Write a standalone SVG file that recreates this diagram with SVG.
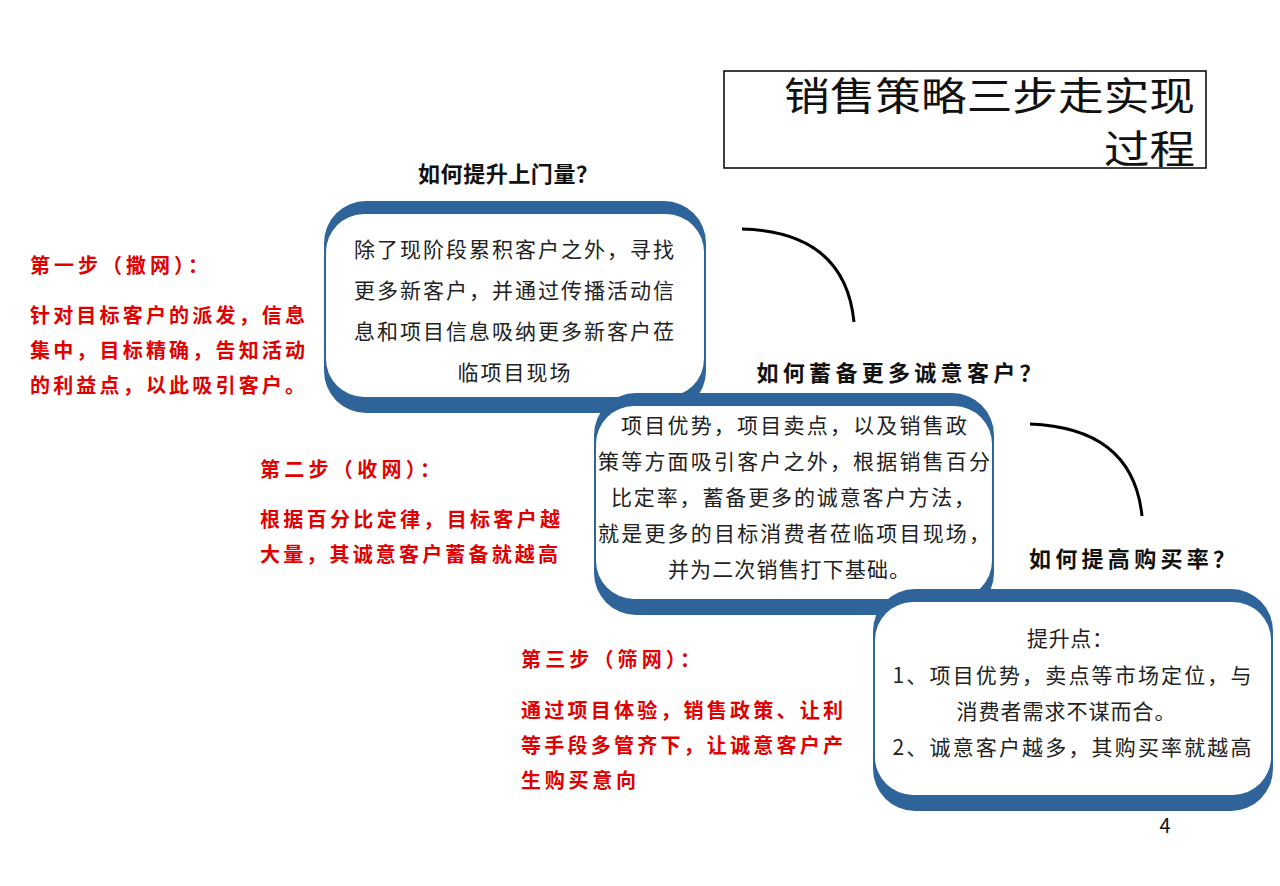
<svg xmlns="http://www.w3.org/2000/svg" width="1280" height="886" viewBox="0 0 1280 886">
<style>
text{font-family:"Noto Sans CJK SC","Noto Sans",sans-serif}
.b{fill:#2e6499}.w{fill:#fff}
.t{font-size:21px;fill:#222;text-anchor:middle}
.h{font-size:22px;font-weight:bold;fill:#111}
.r{font-size:20px;font-weight:bold;fill:#e00000}
.arc{fill:none;stroke:#000;stroke-width:3}
</style>
<rect width="1280" height="886" fill="#fff"/>
<g id="title">
<rect x="724" y="71" width="482" height="97" fill="#fff" stroke="#000" stroke-width="1.5"/>
<text x="784" y="110" font-size="39" fill="#111" textLength="411" lengthAdjust="spacingAndGlyphs">销售策略三步走实现</text>
<text x="1104" y="163" font-size="39" fill="#111" textLength="91" lengthAdjust="spacingAndGlyphs">过程</text>
</g>
<g id="connectors">
<path class="arc" d="M742,229 Q845,232 854,322"/>
<path class="arc" d="M1030,424 Q1133,428 1142,516"/>
</g>
<g id="box1">
<rect class="b" x="324" y="201" width="382" height="212" rx="42"/>
<rect class="w" x="326" y="214" width="378" height="183" rx="38"/>
<text class="h" x="508" y="182" text-anchor="middle" font-size="20" textLength="180">如何提升上门量？</text>
<text class="t" x="514" y="257" textLength="320">除了现阶段累积客户之外，寻找</text>
<text class="t" x="514" y="298" textLength="320">更多新客户，并通过传播活动信</text>
<text class="t" x="514" y="339" textLength="320">息和项目信息吸纳更多新客户莅</text>
<text class="t" x="514" y="380" textLength="113">临项目现场</text>
</g>
<g id="box2">
<rect class="b" x="594" y="393" width="400" height="222" rx="42"/>
<rect class="w" x="596" y="406" width="396" height="193" rx="38"/>
<text class="h" x="899" y="381" text-anchor="middle" textLength="285">如何蓄备更多诚意客户？</text>
<text class="t" x="794" y="433" textLength="346">项目优势，项目卖点，以及销售政</text>
<text class="t" x="794" y="469" textLength="392">策等方面吸引客户之外，根据销售百分</text>
<text class="t" x="793" y="505" textLength="364">比定率，蓄备更多的诚意客户方法，</text>
<text class="t" x="794" y="541" textLength="392">就是更多的目标消费者莅临项目现场，</text>
<text class="t" x="789" y="577" textLength="242">并为二次销售打下基础。</text>
</g>
<g id="box3">
<rect class="b" x="873" y="589" width="400" height="222" rx="42"/>
<rect class="w" x="875" y="602" width="396" height="193" rx="38"/>
<text class="h" x="1132" y="567" text-anchor="middle" textLength="206">如何提高购买率？</text>
<text class="t" x="1070" y="646" textLength="86">提升点：</text>
<text class="t" x="1072" y="683" textLength="359">1、项目优势，卖点等市场定位，与</text>
<text class="t" x="1066" y="719" textLength="219">消费者需求不谋而合。</text>
<text class="t" x="1072" y="755" textLength="359">2、诚意客户越多，其购买率就越高</text>
</g>
<g id="step1">
<text class="r" x="30" y="273" textLength="178">第一步（撒网）：</text>
<text class="r" x="30" y="323" textLength="275">针对目标客户的派发，信息</text>
<text class="r" x="30" y="358" textLength="275">集中，目标精确，告知活动</text>
<text class="r" x="30" y="393" textLength="275">的利益点，以此吸引客户。</text>
</g>
<g id="step2">
<text class="r" x="260" y="477" textLength="180">第二步（收网）：</text>
<text class="r" x="260" y="527" textLength="300">根据百分比定律，目标客户越</text>
<text class="r" x="260" y="562" textLength="298">大量，其诚意客户蓄备就越高</text>
</g>
<g id="step3">
<text class="r" x="521" y="667" textLength="179">第三步（筛网）：</text>
<text class="r" x="521" y="718" textLength="322">通过项目体验，销售政策、让利</text>
<text class="r" x="521" y="753" textLength="322">等手段多管齐下，让诚意客户产</text>
<text class="r" x="521" y="788" textLength="115">生购买意向</text>
</g>
<text x="1165" y="833" font-family="Liberation Serif,serif" font-size="20" fill="#111" text-anchor="middle">4</text>
</svg>
